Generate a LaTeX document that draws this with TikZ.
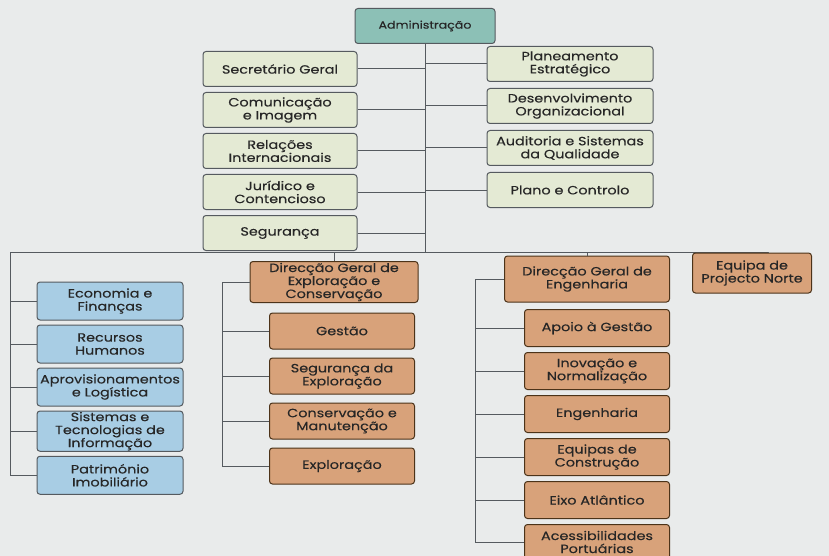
\documentclass[tikz,border=0pt]{standalone}
\usepackage{fontspec}
\setmainfont[FakeStretch=1.2, FakeBold=0.3]{Poppins}
\usepackage{tikz}
\usetikzlibrary{calc,positioning}
\definecolor{bgpaper}{RGB}{233,235,235}
\definecolor{staffgreen}{RGB}{228,234,212}
\definecolor{adminteal}{RGB}{140,192,182}
\definecolor{unitblue}{RGB}{168,205,228}
\definecolor{unitbrown}{RGB}{216,162,122}
\definecolor{linegray}{RGB}{85,90,95}
\tikzset{
  orgbox/.style={
    rectangle,
    rounded corners=3pt,
    draw=linegray, line width=1pt,
    text=black!85,
    align=center,
    inner sep=1pt,
    font=\fontsize{12}{13}\selectfont},
  staff/.style={orgbox, fill=staffgreen, minimum height=35pt},
  blueunit/.style={orgbox, fill=unitblue, minimum width=146pt, minimum height=38pt},
  brownunit/.style={orgbox, fill=unitbrown, draw=black!60!brown, minimum height=36pt},
  conn/.style={draw=linegray, line width=1pt},
}

\begin{document}
\begin{tikzpicture}[x=1pt, y=-1pt]
    \useasboundingbox[fill=bgpaper] (0,0) rectangle (829,556);

    \node[orgbox, fill=adminteal, minimum width=140pt, minimum height=35pt,
          font=\fontsize{10.5}{12}\selectfont] (admin) at (425,26) {Administração};

    %% staff services, left column
    \node[staff, minimum width=154pt] (secg) at (280,69) {Secretário Geral};
    \node[staff, minimum width=154pt, below=5pt of secg] (comim) {Comunicação\\e Imagem};
    \node[staff, minimum width=154pt, below=5pt of comim] (relint) {Relações\\Internacionais};
    \node[staff, minimum width=154pt, below=5pt of relint] (jurid) {Jurídico e\\Contencioso};
    \node[staff, minimum width=154pt, below=5pt of jurid] (segur) {Segurança};

    %% staff services, right column
    \node[staff, minimum width=166pt] (plest) at (570,64) {Planeamento\\Estratégico};
    \node[staff, minimum width=166pt, below=6pt of plest] (desorg) {Desenvolvimento\\Organizacional};
    \node[staff, minimum width=166pt, below=6pt of desorg] (audit) {Auditoria e Sistemas\\da Qualidade};
    \node[staff, minimum width=166pt, below=6pt of audit] (plcont) {Plano e Controlo};

    \coordinate (busL) at (10,252);
    \coordinate (busR) at (768,252);
    \draw[conn] (admin.south) -- (admin.south |- busL);
    \draw[conn] (busL) -- (busR);
    \foreach \n in {secg,comim,relint,jurid,segur}
        \draw[conn] (\n.east) -- (\n.east -| admin.south);
    \foreach \n in {plest,desorg,audit,plcont}
        \draw[conn] (\n.west) -- (\n.west -| admin.south);

    %% blue column
    \node[blueunit] (econ) at (110,301) {Economia e\\Finanças};
    \node[blueunit, below=4pt of econ] (rechum) {Recursos\\Humanos};
    \node[blueunit, below=4pt of rechum] (aprov) {Aprovisionamentos\\e Logística};
    \node[blueunit, below=4pt of aprov] (sisinf) {Sistemas e\\Tecnologias de\\Informação};
    \node[blueunit, below=4pt of sisinf] (patrim) {Património\\Imobiliário};

    \draw[conn] (busL) |- (patrim.west);
    \foreach \n in {econ,rechum,aprov,sisinf}
        \draw[conn] (\n.west) -- (\n.west -| busL);

    %% exploracao e conservacao
    \node[brownunit, minimum width=168pt, minimum height=41pt] (dgec) at (334,282)
        {Direcção Geral de\\Exploração e\\Conservação};
    \node[brownunit, minimum width=145pt] (gestao) at (342,331) {Gestão};
    \node[brownunit, minimum width=145pt, below=8pt of gestao] (segexp) {Segurança da\\Exploração};
    \node[brownunit, minimum width=145pt, below=8pt of segexp] (consman) {Conservação e\\Manutenção};
    \node[brownunit, minimum width=145pt, below=8pt of consman] (explor) {Exploração};

    \coordinate (expL) at (222,282);
    \draw[conn] (dgec.north |- busL) -- (dgec.north);
    \draw[conn] (dgec.west) -- (expL) |- (explor.west);
    \foreach \n in {gestao,segexp,consman}
        \draw[conn] (\n.west) -- (\n.west -| expL);

    %% engenharia
    \node[brownunit, minimum width=165pt, minimum height=46pt] (dgeng) at (587,279)
        {Direcção Geral de\\Engenharia};
    \node[brownunit, minimum width=145pt, minimum height=37pt] (apoio) at (597,328) {Apoio à Gestão};
    \node[brownunit, minimum width=145pt, minimum height=37pt, below=5pt of apoio] (inov) {Inovação e\\Normalização};
    \node[brownunit, minimum width=145pt, minimum height=37pt, below=5pt of inov] (engen) {Engenharia};
    \node[brownunit, minimum width=145pt, minimum height=37pt, below=5pt of engen] (eqcons) {Equipas de\\Construção};
    \node[brownunit, minimum width=145pt, minimum height=37pt, below=5pt of eqcons] (eixo) {Eixo Atlântico};
    \node[brownunit, minimum width=145pt, minimum height=35pt, below=5pt of eixo] (acess) {Acessibilidades\\Portuárias};

    \coordinate (engL) at (475,279);
    \draw[conn] (dgeng.north |- busL) -- (dgeng.north);
    \draw[conn] (dgeng.west) -- (engL) |- (acess.west);
    \foreach \n in {apoio,inov,engen,eqcons,eixo}
        \draw[conn] (\n.west) -- (\n.west -| engL);

    \node[brownunit, minimum width=119pt, minimum height=40pt] (eqnorte) at (752,273)
        {Equipa de\\Projecto Norte};
    \draw[conn] (busR) -- (busR |- eqnorte.north);
\end{tikzpicture}
\end{document}
